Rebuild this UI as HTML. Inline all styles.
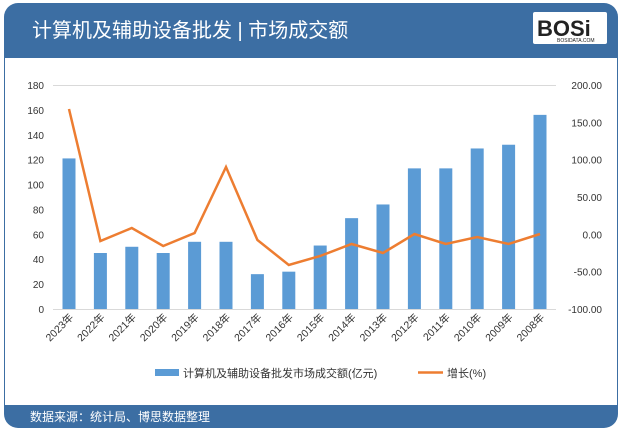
<!DOCTYPE html><html><head><meta charset="utf-8"><style>
body{margin:0;width:623px;height:434px;background:#fff;overflow:hidden;font-family:"Liberation Sans","Noto Sans CJK SC",sans-serif}
</style></head><body>
<svg width="623" height="434" viewBox="0 0 623 434" xmlns="http://www.w3.org/2000/svg" font-family="Liberation Sans, Noto Sans CJK SC, sans-serif">
<rect x="4" y="3" width="614" height="425" rx="14" fill="#3c6ea3"/>
<rect x="5" y="58" width="612" height="347" fill="#fff"/>
<text x="32" y="37" font-size="20" fill="#fff">计算机及辅助设备批发 | 市场成交额</text>
<rect x="533" y="12" width="74" height="32" fill="#fff" rx="2"/>
<text x="537" y="36" font-size="22" font-weight="bold" fill="#222">BOSi</text>
<text x="557" y="42" font-size="5" fill="#222">BOSIDATA.COM</text>
<text x="30" y="421" font-size="12" fill="#fff">数据来源：统计局、博思数据整理</text>
<g stroke="#d9d9d9" stroke-width="1">
<line x1="53" x2="556" y1="85.5" y2="85.5"/><line x1="53" x2="556" y1="309.5" y2="309.5"/>
</g>
<g font-size="10" fill="#333" text-anchor="end" id="ll"></g>
<g font-size="10" fill="#333" text-anchor="end" id="rl"></g>
<g fill="#5b9bd5" id="bars"></g>
<polyline id="ln" fill="none" stroke="#ed7d31" stroke-width="2.5"/>
<g id="xl" font-size="10.5" fill="#333"></g>
<rect x="155" y="369" width="24" height="7" fill="#5b9bd5"/>
<text x="183" y="377" font-size="11" fill="#333">计算机及辅助设备批发市场成交额(亿元)</text>
<line x1="418" x2="443" y1="372.5" y2="372.5" stroke="#ed7d31" stroke-width="2.5"/>
<text x="447" y="377" font-size="11" fill="#333">增长(%)</text>
</svg>
<script>
var NS='http://www.w3.org/2000/svg';
function tx(g,x,y,s){var t=document.createElementNS(NS,'text');t.setAttribute('x',x);t.setAttribute('y',y);t.textContent=s;document.getElementById(g).appendChild(t);}
for(var k=0;k<=9;k++){tx('ll',44,309-k*224/9+4,String(k*20));}
for(var k=0;k<=6;k++){tx('rl',602,309-k*224/6+4,(k*50-100).toFixed(2));}
var v=[121,45,50,45,54,54,28,30,51,73,84,113,113,129,132,156];
var ly=[109,241,228,246,233,167,240,265,256,244,253,234,244,237,244,234];
var b=document.getElementById('bars'),pts=[],xl=document.getElementById('xl');
for(var i=0;i<16;i++){var cx=69+i*31.4,h=v[i]*224/180;
var r=document.createElementNS(NS,'rect');
r.setAttribute('x',cx-6.5);r.setAttribute('width',13);r.setAttribute('y',309-h);r.setAttribute('height',h);b.appendChild(r);
pts.push(cx+','+ly[i]);
var t=document.createElementNS(NS,'text');
t.setAttribute('transform','translate('+(cx+5)+',318) rotate(-45)');t.setAttribute('text-anchor','end');t.textContent=(2023-i)+'年';xl.appendChild(t);}
document.getElementById('ln').setAttribute('points',pts.join(' '));
</script>
</body></html>
